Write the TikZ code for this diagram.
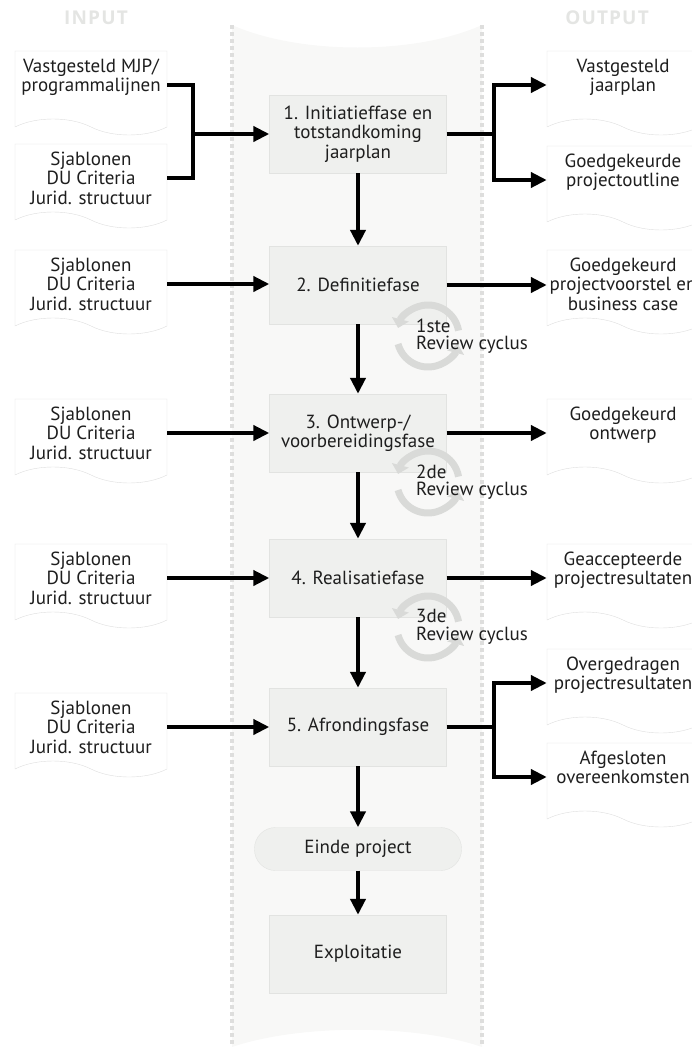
\documentclass[tikz,border=0pt]{standalone}
\usepackage{fontspec}
\setmainfont{PT Sans}
\newfontfamily\headfont[LetterSpace=6]{Open Sans}
\usetikzlibrary{arrows.meta,shapes.symbols}
\definecolor{bandfill}{RGB}{248,248,247}
\definecolor{dotcol}{RGB}{222,222,221}
\definecolor{boxfill}{RGB}{239,240,238}
\definecolor{boxline}{RGB}{226,227,225}
\definecolor{docline}{RGB}{222,222,222}
\definecolor{ringcol}{RGB}{217,218,216}
\definecolor{titlecol}{RGB}{228,229,227}
\definecolor{textcol}{RGB}{30,30,30}

\begin{document}
\begin{tikzpicture}[x=1pt, y=-1pt, font=\fontsize{19}{19.5}\selectfont, text=textcol,
    phase/.style = {draw=boxline, fill=boxfill, minimum width=177pt, minimum height=78pt, align=center},
    paper/.style = {tape, tape bend top=none, tape bend bottom=out and in, tape bend height=16pt,
                    draw=docline, fill=white, minimum width=152pt, minimum height=84pt, align=center, inner sep=0pt},
    link/.style = {line width=4.5pt},
    arrow/.style = {link, -{Triangle[length=16pt,width=15pt]}},
    revring/.style = {draw=ringcol, line width=7pt, -{Triangle[length=9pt,width=17pt]}},
    head/.style = {text=titlecol, font=\headfont\bfseries\fontsize{19}{19}\selectfont}]
    \useasboundingbox (0,0) rectangle (691,1047);

    % middle band
    \fill[bandfill] (232,25) .. controls (300,55) and (415,55) .. (482,25) -- (482,1047)
        .. controls (415,1024) and (300,1024) .. (232,1047) -- cycle;
    \draw[dotcol, line width=3.5pt, dash pattern=on 3.5pt off 3.5pt] (232,25) -- (232,1047);
    \draw[dotcol, line width=3.5pt, dash pattern=on 3.5pt off 3.5pt] (482,25) -- (482,1047);

    \node[head] (input) at (96,18) {INPUT};
    \node[head] (output) at (607,18) {OUTPUT};

    % inputs
    \node[paper] (in1) at (91,85) {Vastgesteld MJP/\\programmalijnen\\\mbox{}};
    \node[paper] (in2) at (91,178) {Sjablonen\\DU Criteria\\Jurid. structuur};
    \foreach \i/\y in {3/284, 4/433, 5/578, 6/727}
        \node[paper] (in\i) at (91,\y) {Sjablonen\\DU Criteria\\Jurid. structuur};

    % outputs
    \node[paper] (out1) at (623,85) {Vastgesteld\\jaarplan\\\mbox{}};
    \node[paper] (out2) at (623,180) {Goedgekeurde\\projectoutline\\\mbox{}};
    \node[paper] (out3) at (623,284) {Goedgekeurd\\projectvoorstel en\\business case};
    \node[paper] (out4) at (623,433) {Goedgekeurd\\ontwerp\\\mbox{}};
    \node[paper] (out5) at (623,578) {Geaccepteerde\\projectresultaten\\\mbox{}};
    \node[paper] (out6) at (623,683) {Overgedragen\\projectresultaten\\\mbox{}};
    \node[paper] (out7) at (623,777) {Afgesloten\\overeenkomsten\\\mbox{}};

    % phases
    \node[phase] (b1) at (358,134) {1. Initiatieffase en\\totstandkoming\\jaarplan};
    \node[phase] (b2) at (358,285) {2. Definitiefase};
    \node[phase] (b3) at (358,433) {3. Ontwerp-/\\voorbereidingsfase};
    \node[phase] (b4) at (358,578) {4. Realisatiefase};
    \node[phase] (b5) at (358,727) {5. Afrondingsfase};
    \node[phase, minimum width=207pt, minimum height=43pt, rounded corners=21pt] (end) at (358,849) {Einde project};
    \node[phase] (expl) at (358,954) {Exploitatie};

    % review cycles
    \foreach \n/\y/\t in {1/336/1ste, 2/482/2de, 3/627/3de} {
        \draw[revring] (428,\y) ++(-10:31) arc[start angle=-10, end angle=-165, radius=31];
        \draw[revring] (428,\y) ++(165:31) arc[start angle=165, end angle=15, radius=31];
        \node[anchor=west, align=left, inner sep=0pt, font=\fontsize{19}{17.5}\selectfont] (rev\n) at (416,\y) {\t\\Review cyclus};
    }

    % connectors
    \coordinate (jin) at (193,134);
    \coordinate (jout1) at (494,134);
    \coordinate (jout5) at (494,727);
    \draw[link] (in1) -| (jin) |- (in2);
    \draw[arrow] (jin) -- (b1);
    \draw[link] (b1.east) -- (jout1);
    \draw[arrow] (jout1) |- (out1);
    \draw[arrow] (jout1) |- (out2);
    \foreach \i/\b in {3/b2, 4/b3, 5/b4, 6/b5}
        \draw[arrow] (in\i.east) -- (in\i.east -| \b.west);
    \foreach \b/\o in {b2/out3, b3/out4, b4/out5}
        \draw[arrow] (\b.east) -- (\b.east -| \o.west);
    \draw[link] (b5.east) -- (jout5);
    \draw[arrow] (jout5) |- (out6);
    \draw[arrow] (jout5) |- (out7);
    \draw[arrow] (b1) -- (b2);
    \draw[arrow] (b2) -- (b3);
    \draw[arrow] (b3) -- (b4);
    \draw[arrow] (b4) -- (b5);
    \draw[arrow] (b5) -- (end);
    \draw[arrow] (end) -- (expl);
\end{tikzpicture}
\end{document}
